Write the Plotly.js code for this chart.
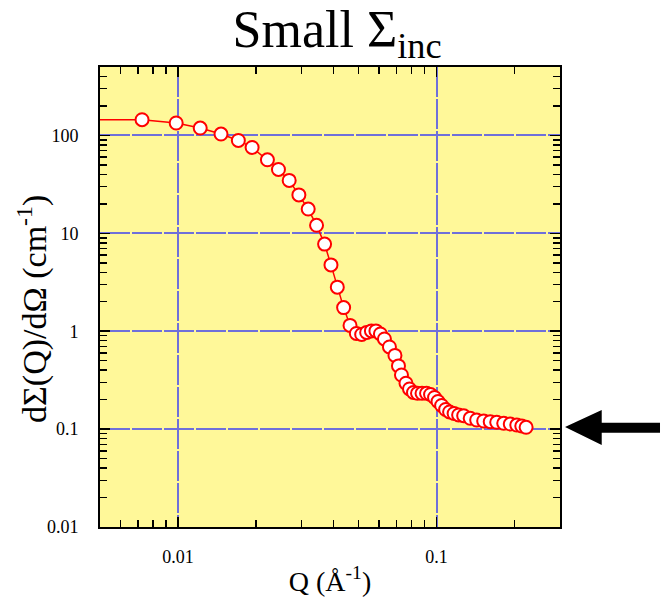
<!DOCTYPE html>
<html>
<head>
<meta charset="utf-8">
<script src="https://cdn.plot.ly/plotly-3.0.1.min.js"></script>
<style>html,body{margin:0;padding:0;background:#fff;}#chart{width:661px;height:607px;}</style>
</head>
<body>
<div id="chart"></div>
<script>
// Q (1/Å)
const q = [0.0040, 0.00727, 0.00985, 0.0122, 0.01468, 0.01713, 0.01936, 0.02219, 0.02448, 0.02693, 0.02936,
  0.0319, 0.03436, 0.03691, 0.03907, 0.04133, 0.04372, 0.04629, 0.04897, 0.05134, 0.05368,
  0.05599, 0.05829, 0.06067, 0.06287, 0.06574, 0.06905, 0.07124, 0.07317, 0.07617, 0.07858,
  0.08144, 0.0844, 0.08786, 0.09146, 0.09478, 0.09822, 0.1013, 0.1046, 0.1084, 0.1123,
  0.1169, 0.1217, 0.1273, 0.1349, 0.1429, 0.1521, 0.1612, 0.1708, 0.1818, 0.1927,
  0.2042, 0.2135, 0.2219];
// dΣ/dΩ (1/cm)
const sigma = [145, 144.7, 133.9, 119.0, 103.3, 88.9, 75.4, 56.4, 44.9, 34.7, 24.7,
  17.7, 12.07, 7.76, 4.76, 2.82, 1.743, 1.146, 0.949, 0.927, 0.972,
  1.007, 1.007, 0.938, 0.834, 0.691, 0.566, 0.442, 0.357, 0.294, 0.257,
  0.2367, 0.2323, 0.2323, 0.2323, 0.2258, 0.2103, 0.1915, 0.1743, 0.1586, 0.1496,
  0.1444, 0.1394, 0.1371, 0.1289, 0.1239, 0.121, 0.119, 0.1174, 0.1146, 0.1127,
  0.1101, 0.1075, 0.1043];

const xTickVals = [0.01, 0.1];
const xTickText = ['0.01', '0.1'];
const yTickVals = [0.01, 0.1, 1, 10, 100];
const yTickText = ['0.01', '0.1', '1', '10', '100'];

function minorVals(lo, hi) {
  const out = [];
  for (let e = lo; e < hi; e++) for (let m = 2; m <= 9; m++) out.push(m * Math.pow(10, e));
  return out;
}

const serif = 'Liberation Serif, Times New Roman, serif';

const trace = {
  x: q, y: sigma, type: 'scatter', mode: 'lines+markers',
  line: {color: '#ff0000', width: 1.5},
  marker: {size: 13, color: '#ffffff', line: {color: '#ff0000', width: 2}},
  cliponaxis: true, showlegend: false
};

const gridColor = '#6f70da';

const layout = {
  width: 661, height: 607,
  margin: {l: 100, r: 101, t: 67, b: 80},
  paper_bgcolor: '#ffffff', plot_bgcolor: '#fff899',
  font: {family: serif, color: '#000'},
  title: {
    text: 'Small Σ<sub>inc</sub>', font: {family: serif, size: 52, color: '#000'},
    xref: 'container', x: 0.51, xanchor: 'center',
    yref: 'container', y: 0.952, yanchor: 'middle'
  },
  xaxis: {
    type: 'log', range: [Math.log10(0.005), Math.log10(0.3)],
    tickmode: 'array', tickvals: xTickVals, ticktext: xTickText,
    ticks: 'inside', ticklen: 10, tickwidth: 1.5, tickcolor: '#000',
    tickfont: {family: serif, size: 18},
    ticklabelstandoff: 12,
    minor: {tickmode: 'array', tickvals: minorVals(-3, 0), ticks: 'inside', ticklen: 7, tickwidth: 1.5, tickcolor: '#000', showgrid: false},
    showline: true, linecolor: '#000', linewidth: 2, mirror: 'allticks',
    showgrid: true, gridcolor: gridColor, gridwidth: 2, griddash: '30px,2px',
    zeroline: false,
    title: {text: 'Q (Å<sup>-1</sup>)', font: {family: serif, size: 28}, standoff: 6}
  },
  yaxis: {
    type: 'log', range: [-2, Math.log10(500)],
    tickmode: 'array', tickvals: yTickVals, ticktext: yTickText,
    ticks: 'inside', ticklen: 10, tickwidth: 1.5, tickcolor: '#000',
    tickfont: {family: serif, size: 18},
    ticklabelstandoff: 16,
    minor: {tickmode: 'array', tickvals: minorVals(-2, 3), ticks: 'inside', ticklen: 7, tickwidth: 1.5, tickcolor: '#000', showgrid: false},
    showline: true, linecolor: '#000', linewidth: 2, mirror: 'allticks',
    showgrid: true, gridcolor: gridColor, gridwidth: 2, griddash: '30px,2px',
    zeroline: false
  },
  annotations: [{
    text: 'dΣ(Q)/dΩ (cm<sup>-1</sup>)', textangle: -90, showarrow: false,
    xref: 'paper', yref: 'paper', x: -0.1457, y: 0.474, xanchor: 'center', yanchor: 'middle',
    font: {family: serif, size: 34, color: '#000'}
  }],
  shapes: [{
    type: 'path', xref: 'paper', yref: 'paper',
    path: 'M 1.0109,0.2174 L 1.0907,0.2543 L 1.0907,0.2267 L 1.2174,0.2267 L 1.2174,0.2050 L 1.0907,0.2050 L 1.0907,0.1783 Z',
    fillcolor: '#000', line: {color: '#000', width: 0}
  }]
};

Plotly.newPlot('chart', [trace], layout, {displayModeBar: false, staticPlot: true});
</script>
</body>
</html>
